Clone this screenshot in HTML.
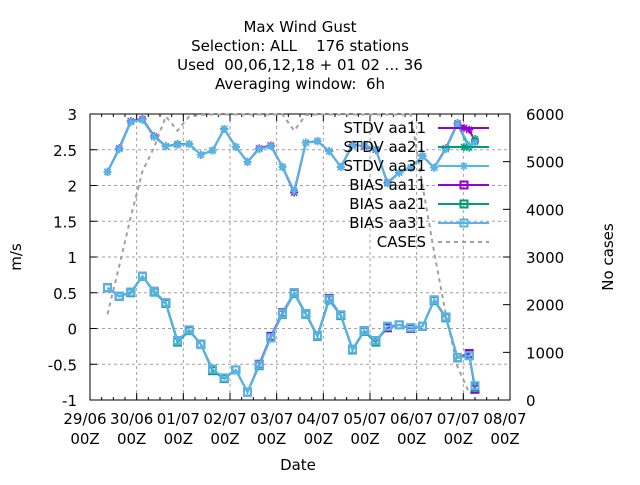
<!DOCTYPE html>
<html><head><meta charset="utf-8"><style>
body{margin:0;background:#fff;width:640px;height:480px;overflow:hidden}
svg{font-family:"DejaVu Sans","Liberation Sans",sans-serif;font-size:15px}
text{white-space:pre}
</style></head><body>
<svg id="chart" width="640" height="480">
<g text-anchor="middle" font-size="15">
<text x="300" y="32">Max Wind Gust</text>
<text x="300" y="51">Selection: ALL    176 stations</text>
<text x="300" y="70">Used  00,06,12,18 + 01 02 ... 36</text>
<text x="300" y="89">Averaging window:  6h</text>
</g>
<text transform="translate(21,257) rotate(-90)" text-anchor="middle">m/s</text>
<text transform="translate(613,257) rotate(-90)" text-anchor="middle">No cases</text>
<text x="298" y="470" text-anchor="middle">Date</text>
<g id="grid"></g><g id="axes"></g><g id="series"></g><g id="legend"></g>
</svg>
<script>
const dayLabels=["29/06","30/06","01/07","02/07","03/07","04/07","05/07","06/07","07/07","08/07"];
const hours=[9,15,21,27,33,39,45,51,57,63,69,75,81,87,93,99,105,111,117,123,129,135,141,147,153,159,165,171,177,183,189,195,198];
const stdv31=[2.19,2.51,2.89,2.92,2.68,2.55,2.57,2.58,2.43,2.49,2.79,2.54,2.33,2.51,2.55,2.26,1.92,2.6,2.62,2.48,2.26,2.56,2.56,2.51,2.03,2.18,2.25,2.41,2.25,2.51,2.86,2.56,2.6];
const stdv21=[2.19,2.51,2.89,2.92,2.68,2.55,2.58,2.58,2.43,2.49,2.79,2.54,2.33,2.51,2.55,2.26,1.92,2.6,2.62,2.48,2.26,2.56,2.56,2.51,2.03,2.18,2.25,2.41,2.25,2.51,2.86,2.53,2.65];
const stdv11=[2.19,2.52,2.9,2.93,2.69,2.55,2.57,2.58,2.43,2.49,2.79,2.54,2.33,2.52,2.56,2.26,1.9,2.6,2.62,2.48,2.26,2.57,2.55,2.5,2.04,2.18,2.25,2.41,2.25,2.52,2.87,2.78,2.62];
const bias31=[0.57,0.45,0.51,0.73,0.52,0.36,-0.17,-0.02,-0.22,-0.57,-0.69,-0.58,-0.89,-0.51,-0.13,0.21,0.5,0.21,-0.1,0.41,0.19,-0.29,-0.03,-0.17,0.03,0.05,0.01,0.03,0.4,0.16,-0.41,-0.38,-0.8];
const bias21=[0.57,0.45,0.5,0.73,0.51,0.35,-0.19,-0.03,-0.22,-0.59,-0.7,-0.58,-0.89,-0.52,-0.13,0.2,0.49,0.2,-0.11,0.4,0.18,-0.3,-0.04,-0.19,0.03,0.05,0.01,0.03,0.39,0.15,-0.41,-0.38,-0.82];
const bias11=[0.57,0.45,0.51,0.73,0.52,0.36,-0.17,-0.02,-0.22,-0.57,-0.7,-0.58,-0.89,-0.5,-0.11,0.22,0.5,0.21,-0.1,0.42,0.19,-0.29,-0.03,-0.17,0.01,0.05,0.0,0.03,0.4,0.16,-0.41,-0.35,-0.85];
const cases=[1800,2800,3850,4800,5300,5950,5650,5950,5980,5990,5990,5990,5990,5990,5990,5990,5650,5980,5990,5990,5990,5990,5990,5990,5990,5990,5990,4500,3100,1800,700,150,150];
const yTicks=[-1,-0.5,0,0.5,1,1.5,2,2.5,3];
const y2Ticks=[0,1000,2000,3000,4000,5000,6000];
const L=90,R=510,T=114,B=400;
const X=h=>L+h/216*(R-L);
const Y=v=>B-(v+1)/4*(B-T);
const Y2=v=>B-v/6000*(B-T);
const NS="http://www.w3.org/2000/svg";
function mk(tag,attrs,parent){const e=document.createElementNS(NS,tag);for(const k in attrs)e.setAttribute(k,attrs[k]);parent.appendChild(e);return e;}
const grid=document.getElementById('grid'),axes=document.getElementById('axes'),ser=document.getElementById('series'),leg=document.getElementById('legend');
yTicks.forEach(v=>{
 if(v>-1&&v<3){const g=mk('line',{x1:L,x2:R,y1:Y(v),y2:Y(v),stroke:'#a0a0a0','stroke-dasharray':'3,3'},grid);}
 mk('line',{x1:L,x2:L+7,y1:Y(v),y2:Y(v),stroke:'#000'},axes);
 const t=mk('text',{x:L-13,y:Y(v)+6,'text-anchor':'end'},axes);t.textContent=v;
 
});
y2Ticks.forEach(v=>{
 mk('line',{x1:R-7,x2:R,y1:Y2(v),y2:Y2(v),stroke:'#000'},axes);
 const t=mk('text',{x:526,y:Y2(v)+6},axes);t.textContent=v;
 
});
dayLabels.forEach((d,i)=>{
 const x=X(i*24);
 if(i>0&&i<9){const g=mk('line',{x1:x,x2:x,y1:T,y2:B,stroke:'#a0a0a0','stroke-dasharray':'3,3'},grid);}
 mk('line',{x1:x,x2:x,y1:B,y2:B-7,stroke:'#000'},axes);mk('line',{x1:x,x2:x,y1:T,y2:T+7,stroke:'#000'},axes);
 const t=mk('text',{x:x-5,y:424,'text-anchor':'middle'},axes);t.textContent=d;
 
 const t2=mk('text',{x:x-5,y:444,'text-anchor':'middle'},axes);t2.textContent='00Z';
 
 if(i<9)for(let k=1;k<4;k++){const xm=X(i*24+k*6);mk('line',{x1:xm,x2:xm,y1:B,y2:B-3,stroke:'#000'},axes);mk('line',{x1:xm,x2:xm,y1:T,y2:T+3,stroke:'#000'},axes);}
});
const fr=mk('rect',{x:L,y:T,width:R-L,height:B-T,fill:'none',stroke:'#000'},axes);

function star(g,x,y,c){mk('path',{d:`M${x-4},${y}H${x+4}M${x},${y-4}V${y+4}M${x-3},${y-3}L${x+3},${y+3}M${x-3},${y+3}L${x+3},${y-3}`,stroke:c,'stroke-width':1.5,fill:'none'},g);}
function sq(g,x,y,c){mk('rect',{x:x-3.5,y:y-3.5,width:7,height:7,stroke:c,'stroke-width':2,fill:'none'},g);}
function line(name,vals,c,mark,yf,dash){
 const g=mk('g',{},ser);
 const pts=vals.map((v,i)=>X(hours[i])+','+yf(v)).join(' ');
 mk('polyline',{points:pts,fill:'none',stroke:c,'stroke-width':2,'stroke-dasharray':dash||'none'},g);
 if(mark)vals.forEach((v,i)=>mark(g,X(hours[i]),yf(v),c));
}
const C11='#9400d3',C21='#009e73',C31='#56b4e9';
line('cases-line',cases,'#a0a0a0',null,Y2,'4,4');
line('stdv-aa11',stdv11,C11,star,Y);line('stdv-aa21',stdv21,C21,star,Y);line('stdv-aa31',stdv31,C31,star,Y);
line('bias-aa11',bias11,C11,sq,Y);line('bias-aa21',bias21,C21,sq,Y);line('bias-aa31',bias31,C31,sq,Y);
const legItems=[['STDV aa11',C11,star],['STDV aa21',C21,star],['STDV aa31',C31,star],['BIAS aa11',C11,sq],['BIAS aa21',C21,sq],['BIAS aa31',C31,sq],['CASES','#a0a0a0',null]];
legItems.forEach((it,i)=>{
 const y=128+i*19;
 const g=mk('g',{},leg);
 const t=mk('text',{x:426,y:y+5,'text-anchor':'end'},g);t.textContent=it[0];
 mk('line',{x1:438,x2:489,y1:y,y2:y,stroke:it[1],'stroke-width':2,'stroke-dasharray':it[2]?'none':'4,4'},g);
 if(it[2])it[2](g,464,y,it[1]);
});
</script>
</body></html>
